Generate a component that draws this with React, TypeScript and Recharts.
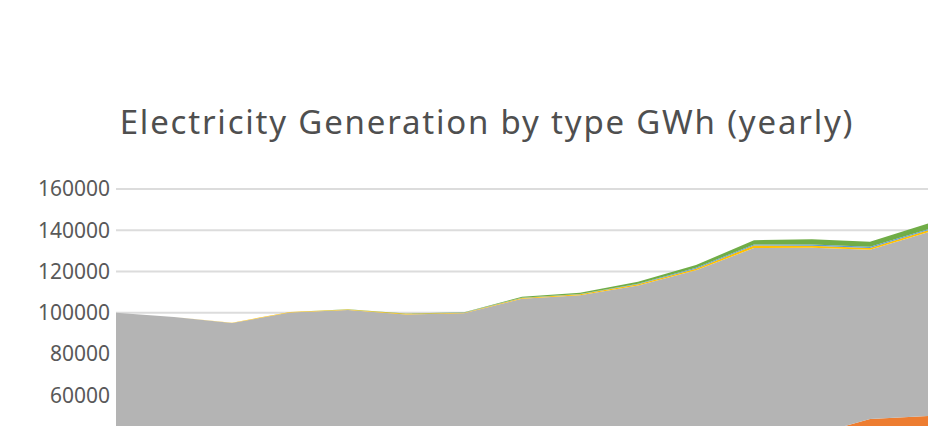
import React from 'react';
import { AreaChart, Area, XAxis, YAxis, CartesianGrid } from 'recharts';

const years = ['2005', '2006', '2007', '2008', '2009', '2010', '2011', '2012', '2013', '2014', '2015', '2016', '2017', '2018', '2019'];

const coal = [22000, 21500, 22500, 23000, 22000, 21000, 22500, 24000, 23000, 22500, 23000, 22000, 21000, 21500, 20500];
const gas = [15000, 16000, 15500, 15000, 16500, 17500, 16500, 15500, 16500, 17000, 18000, 18500, 19600, 27000, 29400];
const hydro = [62950, 60500, 57050, 62100, 62800, 60700, 60700, 67300, 69000, 73750, 79550, 90900, 90900, 82050, 89150];
const solar = [0, 0, 150, 250, 300, 300, 350, 400, 500, 600, 800, 1200, 1000, 900, 900];
const biomass = [0, 0, 0, 0, 0, 0, 50, 100, 150, 250, 450, 500, 600, 550, 550];
const wind = [0, 0, 0, 50, 100, 150, 200, 400, 500, 900, 1300, 2100, 2500, 2400, 2800];

const yTicks = [0, 20000, 40000, 60000, 80000, 100000, 120000, 140000, 160000];

const series = [
  { key: 'coal', name: 'Coal', color: '#4472C4' },
  { key: 'gas', name: 'Natural Gas', color: '#ED7D31' },
  { key: 'hydro', name: 'Hydro', color: '#B4B4B4' },
  { key: 'solar', name: 'Solar', color: '#FFC000' },
  { key: 'biomass', name: 'Biomass', color: '#5B9BD5' },
  { key: 'wind', name: 'Wind', color: '#70AD47' },
];

const data = years.map((year, i) => ({
  year,
  coal: coal[i],
  gas: gas[i],
  hydro: hydro[i],
  solar: solar[i],
  biomass: biomass[i],
  wind: wind[i],
}));

const App: React.FC = () => {
  return (
    <div
      style={{
        position: 'fixed',
        left: 0,
        top: 0,
        width: 929,
        height: 426,
        overflow: 'hidden',
        background: '#fff',
      }}
    >
      <svg width={929} height={426} style={{ position: 'absolute', left: 0, top: 0 }}>
        <text
          x={487}
          y={134}
          textAnchor="middle"
          fontFamily="Noto Sans"
          fontSize={33}
          letterSpacing={1.8}
          fill="#4f4f4f"
        >
          Electricity Generation by type GWh (yearly)
        </text>
      </svg>
      <div style={{ position: 'absolute', left: 0, top: 0 }}>
        <AreaChart
          width={929}
          height={580}
          data={data}
          margin={{ top: 189, right: 1, bottom: 61, left: 0 }}
        >
          <CartesianGrid vertical={false} stroke="#dcdcdc" strokeWidth={2} />
          <XAxis dataKey="year" hide />
          <YAxis
            width={116}
            domain={[0, 160000]}
            ticks={yTicks}
            axisLine={false}
            tickLine={false}
            tickSize={6}
            tickMargin={0}
            tick={{ fontFamily: 'Noto Sans', fontSize: 21, fill: '#595959' }}
          />
          {series.map((s) => (
            <Area
              key={s.key}
              type="linear"
              dataKey={s.key}
              name={s.name}
              stackId="gen"
              stroke="none"
              fill={s.color}
              fillOpacity={1}
              isAnimationActive={false}
            />
          ))}
        </AreaChart>
      </div>
    </div>
  );
};

export default App;
